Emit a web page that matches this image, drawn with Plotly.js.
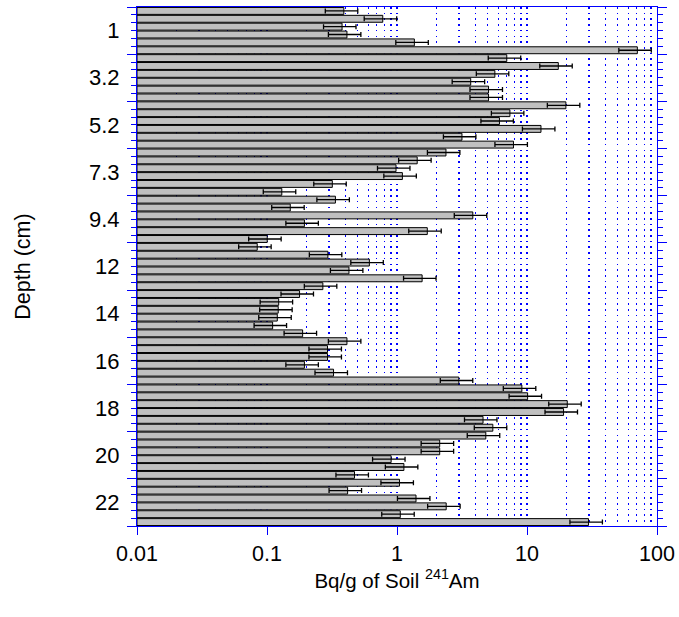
<!DOCTYPE html>
<html>
<head>
<meta charset="utf-8">
<script src="https://cdn.plot.ly/plotly-3.0.1.min.js"></script>
<style>html,body{margin:0;padding:0;background:#fff;}#chart{width:679px;height:617px;}</style>
</head>
<body>
<div id="chart"></div>
<script>
// Activity (Bq/g) for each of the 66 depth slices, top to bottom
const activity = [
  0.380, 0.767, 0.368, 0.402, 1.35, 70.6,
  6.98, 17.4, 5.65, 3.68, 5.05, 5.05,
  19.9, 7.38, 6.13, 12.8, 3.15, 7.86,
  2.37, 1.42, 0.973, 1.09, 0.308, 0.120,
  0.326, 0.141, 3.82, 0.184, 1.70, 0.0904,
  0.0741, 0.284, 0.603, 0.417, 1.55, 0.259,
  0.168, 0.113, 0.112, 0.110, 0.1005, 0.178,
  0.402, 0.282, 0.282, 0.184, 0.315, 2.98,
  9.12, 10.1, 20.4, 19.1, 4.58, 5.45,
  4.81, 2.12, 2.12, 0.891, 1.12, 0.461,
  1.035, 0.407, 1.39, 2.38, 1.05, 29.7
];
const errorPercent = 28;
const depthLabels = ['1', '3.2', '5.2', '7.3', '9.4', '12', '14', '16', '18', '20', '22'];
const slicesPerLabel = 6;
const xTickVals = [0.01, 0.1, 1, 10, 100];
const xTickText = ['0.01', '0.1', '1', '10', '100'];
const xMinorVals = [];
for (let d = 0; d < xTickVals.length - 1; d++) {
  for (let m = 2; m <= 9; m++) xMinorVals.push(+(xTickVals[d] * m).toPrecision(3));
}

const idx = activity.map((_, i) => i);
const nSlices = activity.length;
const boundaries = [];
for (let k = 0; k <= nSlices; k++) boundaries.push(k - 0.5);
const majorBoundaries = boundaries.filter((_, k) => k % slicesPerLabel === 0);
const labelPos = depthLabels.map((_, g) => g * slicesPerLabel + (slicesPerLabel - 1) / 2);

const blue = '#0000ff';
const fontFam = '"Liberation Sans", Arial, sans-serif';

const trace = {
  type: 'bar',
  orientation: 'h',
  x: activity,
  y: idx,
  base: 0.01,
  marker: {color: '#c0c0c0', line: {color: '#000000', width: 1}},
  error_x: {type: 'percent', value: errorPercent, color: '#000000', thickness: 1.3, width: 2.5},
  hoverinfo: 'x',
  showlegend: false
};

const layout = {
  width: 679, height: 617,
  margin: {l: 137, r: 22, t: 7, b: 91},
  paper_bgcolor: '#ffffff', plot_bgcolor: '#ffffff',
  font: {family: fontFam, color: '#000000', size: 21},
  bargap: 0.12,
  xaxis: {
    type: 'log', range: [-2, 2],
    tickmode: 'array', tickvals: xTickVals, ticktext: xTickText,
    ticks: 'outside', ticklen: 8, tickcolor: blue, tickwidth: 1,
    showline: true, linecolor: blue, linewidth: 1, mirror: true,
    showgrid: true, gridcolor: blue, griddash: '1.6px,4.1px', gridwidth: 1.2,
    minor: {tickmode: 'array', tickvals: xMinorVals, ticks: '', showgrid: true,
            gridcolor: blue, griddash: '1.6px,4.1px', gridwidth: 1.2},
    tickfont: {size: 21.5},
    zeroline: false,
    title: {text: 'Bq/g of Soil <sup>241</sup>Am', font: {size: 20.5}, standoff: 8}
  },
  yaxis: {
    range: [nSlices - 0.5, -0.5],
    tickmode: 'array', tickvals: majorBoundaries,
    ticks: 'outside', ticklen: 9, tickcolor: blue, tickwidth: 1,
    minor: {tickmode: 'array', tickvals: boundaries, ticks: 'outside', ticklen: 5, tickcolor: blue, tickwidth: 1, showgrid: false},
    showline: true, linecolor: blue, linewidth: 1, mirror: 'ticks',
    showgrid: false, zeroline: false, showticklabels: false
  },
  yaxis2: {
    overlaying: 'y', side: 'left',
    range: [nSlices - 0.5, -0.5],
    tickmode: 'array', tickvals: labelPos, ticktext: depthLabels,
    ticks: 'outside', ticklen: 12, tickcolor: 'rgba(0,0,0,0)',
    showline: false, showgrid: false, zeroline: false,
    tickfont: {size: 22},
    title: {text: 'Depth (cm)', font: {size: 21.5}, standoff: 52}
  }
};

// invisible helper trace so yaxis2 is drawn
const helper = {type: 'scatter', x: [0.01], y: [0], yaxis: 'y2', mode: 'markers',
  marker: {opacity: 0}, hoverinfo: 'skip', showlegend: false};

Plotly.newPlot('chart', [trace, helper], layout, {displayModeBar: false, staticPlot: true});
</script>
</body>
</html>
